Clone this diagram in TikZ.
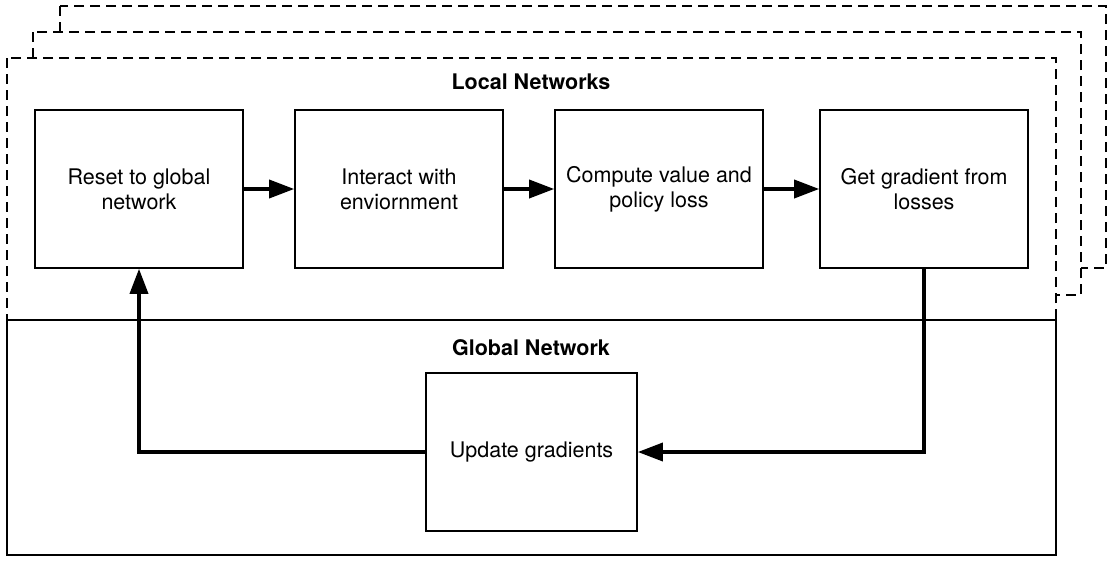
\documentclass[tikz,border=0pt]{standalone}
\usepackage{fontspec}
\setmainfont{TeX Gyre Heros}
\usetikzlibrary{arrows.meta}
\begin{document}
\begin{tikzpicture}[x=1pt,y=-1pt,
  frame/.style={draw, dash pattern=on 10pt off 6pt, line width=1.6pt, fill=white},
  panel/.style={draw, line width=1.6pt, fill=white},
  box/.style={draw, line width=1.6pt, fill=white, minimum width=208pt, minimum height=158pt,
    align=center, inner sep=0pt, font=\fontsize{21.5}{25}\selectfont},
  flow/.style={line width=3.5pt, line join=miter, -{Triangle[length=25pt,width=18pt]}},
  title/.style={font=\bfseries\fontsize{21.5}{25}\selectfont}]
\useasboundingbox (0,0) rectangle (1108,560);

% stacked local worker frames (back to front)
\draw[frame] (60,6) rectangle (1106,268);
\draw[frame] (33,32) rectangle (1081,295);
\draw[frame] (7,58) rectangle (1056,320);

% global network panel
\draw[panel] (7,320) rectangle (1056,555);

\node[title] (localtitle) at (531,82) {Local Networks};
\node[title] (globaltitle) at (531,348) {Global Network};

% local steps
\node[box] (reset) at (139,189) {Reset to global\\network};
\node[box] (interact) at (399,189) {Interact with\\enviornment};
\node[box] (compute) at (659,189) {Compute value and\\policy loss};
\node[box] (grad) at (924,189) {Get gradient from\\losses};

% global step
\node[box, minimum width=211pt] (update) at (531.5,452) {Update gradients};

\draw[flow] (reset) -- (interact);
\draw[flow] (interact) -- (compute);
\draw[flow] (compute) -- (grad);
\draw[flow] (grad.south) |- (update.east);
\draw[flow] (update.west) -| (reset.south);
\end{tikzpicture}
\end{document}
